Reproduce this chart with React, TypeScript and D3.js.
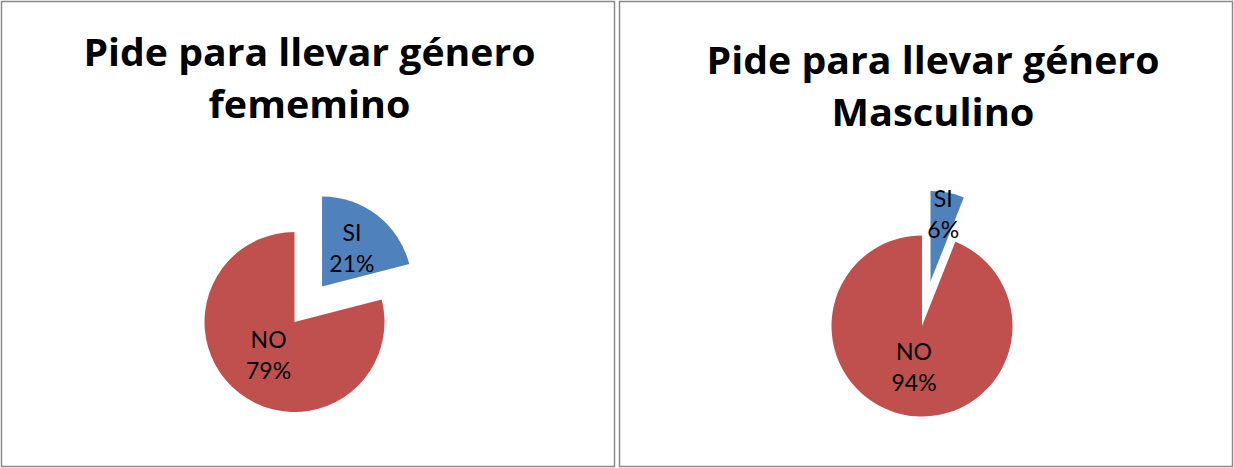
import React from "react";
import * as d3 from "d3";

const categories = ["SI", "NO"];
const valuesFemenino = [21, 79];
const valuesMasculino = [6, 94];
const titleFemenino = ["Pide para llevar género", "fememino"];
const titleMasculino = ["Pide para llevar género", "Masculino"];
const sliceColors = ["#4F81BD", "#C0504D"];

const W = 1234;
const H = 468;

type Layout = {
  x0: number; x1: number;
  cx: number; cy: number; r: number;
  titleX: number; titleY: number; titleW: number[];
  labelK: number[];
};

const layouts: Layout[] = [
  { x0: 1.5, x1: 614.5, cx: 294.5, cy: 322, r: 90, titleX: 309.5, titleY: 66, titleW: [452, 202], labelK: [0.54, 0.47] },
  { x0: 619.5, x1: 1232.5, cx: 922, cy: 326, r: 90.5, titleX: 933, titleY: 74, titleW: [453, 203], labelK: [0.75, 0.47] },
];

const explodeFrac = 0.5;

function PiePanel({ values, title, layout }: { values: number[]; title: string[]; layout: Layout }) {
  const total = d3.sum(values);
  const pie = d3.pie<number>().sort(null).value((d) => d);
  const arcs = pie(values);
  const arc = d3.arc<d3.PieArcDatum<number>>().innerRadius(0).outerRadius(layout.r);
  const fmt = d3.format(".0%");
  return (
    <g>
      <rect x={layout.x0} y={1.5} width={layout.x1 - layout.x0} height={H - 3} fill="#fff" stroke="#8a8a8a" strokeWidth={1.5} />
      {title.map((t, i) => (
        <text
          key={i}
          x={layout.titleX}
          y={layout.titleY + i * 52}
          textAnchor="middle"
          fontFamily="'Open Sans', Lato, sans-serif"
          fontWeight="bold"
          fontSize={38}
          textLength={layout.titleW[i]}
          lengthAdjust="spacingAndGlyphs"
          fill="#000"
        >
          {t}
        </text>
      ))}
      {arcs.map((a, i) => {
        const mid = (a.startAngle + a.endAngle) / 2;
        const dx = Math.sin(mid);
        const dy = -Math.cos(mid);
        const off = i === 0 ? explodeFrac * layout.r : 0;
        const ox = layout.cx + dx * off;
        const oy = layout.cy + dy * off;
        const lk = layout.labelK[i] * layout.r;
        const lx = ox + dx * lk;
        const ly = oy + dy * lk;
        return (
          <g key={i}>
            <path d={arc(a) || ""} transform={`translate(${ox},${oy})`} fill={sliceColors[i]} />
            <text x={lx} y={ly - 7.5} textAnchor="middle" fontFamily="Lato, 'Open Sans', sans-serif" fontSize={23} fill="#000">
              {categories[i]}
            </text>
            <text x={lx} y={ly + 23.5} textAnchor="middle" fontFamily="Lato, 'Open Sans', sans-serif" fontSize={23} fill="#000">
              {fmt(values[i] / total)}
            </text>
          </g>
        );
      })}
    </g>
  );
}

export default function App() {
  return (
    <svg width={W} height={H} style={{ position: "absolute", left: 0, top: 0, background: "#fff" }}>
      <rect x={0} y={0} width={W} height={H} fill="#fff" />
      <PiePanel values={valuesFemenino} title={titleFemenino} layout={layouts[0]} />
      <PiePanel values={valuesMasculino} title={titleMasculino} layout={layouts[1]} />
    </svg>
  );
}
